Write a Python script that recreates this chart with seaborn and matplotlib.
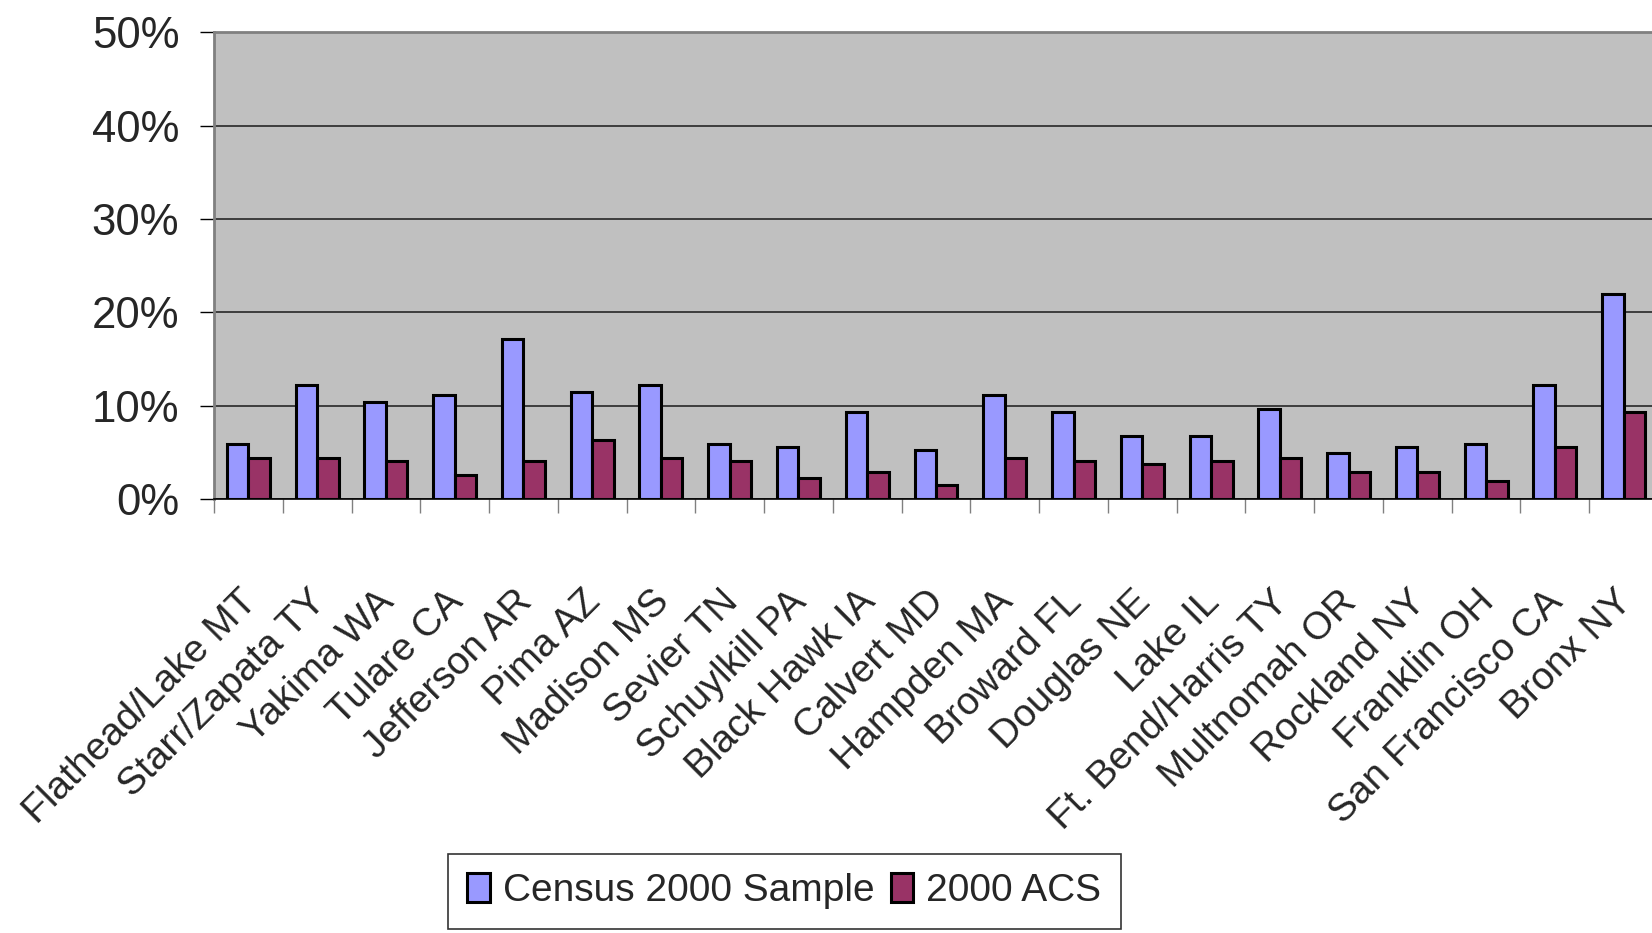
import matplotlib
matplotlib.use("Agg")
import matplotlib.pyplot as plt
import matplotlib.ticker as mticker
import matplotlib.transforms as mtransforms
import numpy as np
import pandas as pd
import seaborn as sns

# Share of records (%) by county, two data sources
counties = [
    "Flathead/Lake MT", "Starr/Zapata TY", "Yakima WA", "Tulare CA",
    "Jefferson AR", "Pima AZ", "Madison MS", "Sevier TN", "Schuylkill PA",
    "Black Hawk IA", "Calvert MD", "Hampden MA", "Broward FL", "Douglas NE",
    "Lake IL", "Ft. Bend/Harris TY", "Multnomah OR", "Rockland NY",
    "Franklin OH", "San Francisco CA", "Bronx NY",
]
census_2000_sample = [5.9, 12.2, 10.4, 11.1, 17.1, 11.5, 12.2, 5.9, 5.6,
                      9.3, 5.2, 11.1, 9.3, 6.7, 6.7, 9.6, 4.9, 5.6, 5.9,
                      12.2, 22.0]
acs_2000 = [4.4, 4.4, 4.1, 2.6, 4.1, 6.3, 4.4, 4.1, 2.2, 2.9, 1.5, 4.4,
            4.1, 3.7, 4.1, 4.4, 2.9, 2.9, 1.9, 5.6, 9.3]
series_names = ["Census 2000 Sample", "2000 ACS"]
series_colors = ["#9999FF", "#993366"]
y_ticks = [0, 10, 20, 30, 40, 50]

df = pd.DataFrame({
    "county": counties * 2,
    "value": census_2000_sample + acs_2000,
    "series": [series_names[0]] * len(counties) + [series_names[1]] * len(counties),
})

sns.set_style("white")
plt.rcParams["font.family"] = ["Liberation Sans", "DejaVu Sans"]

W, H = 1652, 933
fig = plt.figure(figsize=(W / 100, H / 100), dpi=100)
ax = fig.add_axes([214 / W, (H - 499) / H, (1658 - 214) / W, (499 - 32.3) / H])
ax.set_facecolor("#C0C0C0")

sns.barplot(data=df, x="county", y="value", hue="series",
            hue_order=series_names, palette=series_colors, saturation=1,
            width=0.625, edgecolor="black", linewidth=2.2, ax=ax)

ax.set_xlim(-0.5, len(counties) - 0.5)
ax.set_ylim(0, 50)
ax.set_yticks(y_ticks)
ax.yaxis.set_major_formatter(mticker.PercentFormatter(xmax=100, decimals=0))
ax.set_xlabel("")
ax.set_ylabel("")

# horizontal gridlines behind the bars
ax.set_axisbelow(True)
ax.yaxis.grid(True, color="#1a1a1a", linewidth=1.1)
ax.xaxis.grid(False)

for side in ("top", "left"):
    ax.spines[side].set_color("#808080")
    ax.spines[side].set_linewidth(2)
ax.spines["bottom"].set_color("black")
ax.spines["bottom"].set_linewidth(1.2)
ax.spines["right"].set_visible(False)

ax.tick_params(axis="y", which="major", length=10, width=1, color="black",
               labelsize=31.5, pad=15, left=True)

# category labels at the centers, tick marks at the category boundaries
ax.set_xticks(range(len(counties)))
ax.set_xticklabels(counties, rotation=45, ha="right", va="top",
                   rotation_mode="anchor", fontsize=28)
ax.tick_params(axis="x", which="major", length=0, pad=61)
shift = mtransforms.ScaledTranslation(-10 / 100, 0, fig.dpi_scale_trans)
for lbl in ax.get_xticklabels():
    lbl.set_transform(lbl.get_transform() + shift)
ax.set_xticks(np.arange(-0.5, len(counties), 1), minor=True)
ax.tick_params(axis="x", which="minor", length=10, width=1, color="#808080",
               bottom=True)

handles, labels = ax.get_legend_handles_labels()
ax.get_legend().remove()
leg = fig.legend(handles, labels, loc="upper left",
                 bbox_to_anchor=(448 / W, 1 - 854 / H), ncol=2, frameon=True,
                 fancybox=False, edgecolor="black", fontsize=28,
                 handlelength=0.57, handleheight=0.77, handletextpad=0.34,
                 columnspacing=0.42, borderpad=0.5, borderaxespad=0)
leg.get_frame().set_linewidth(1.2)

fig.savefig("out.png", dpi=100)
